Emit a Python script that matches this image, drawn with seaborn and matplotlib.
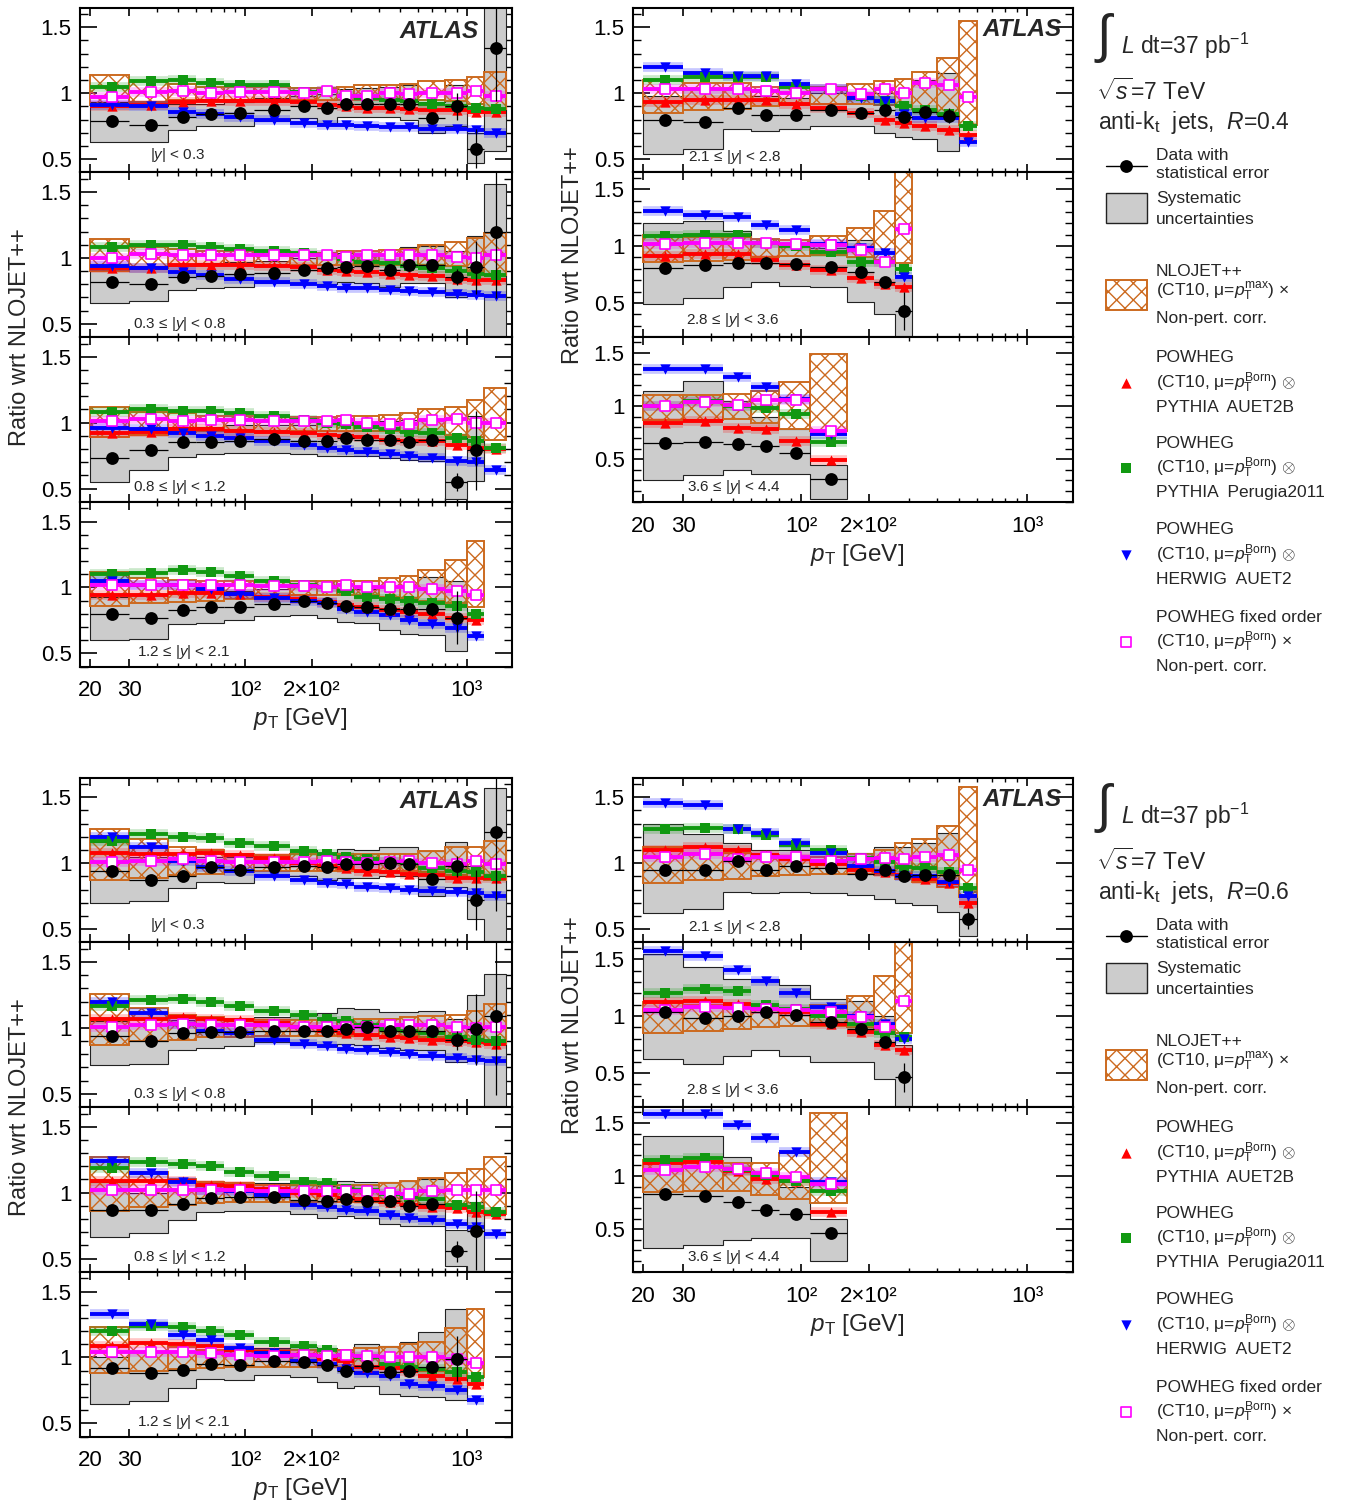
import numpy as np
import matplotlib
matplotlib.use("Agg")
import matplotlib.pyplot as plt
import seaborn as sns
from matplotlib.patches import Rectangle
from matplotlib.ticker import FixedLocator, FixedFormatter, MultipleLocator, NullFormatter

# jet pT bin edges [GeV]
PT_EDGES = [20, 30, 45, 60, 80, 110, 160, 210, 260, 310, 400, 500, 600, 800, 1000, 1200, 1500]

RAP_LABELS = ["|$y$| < 0.3", "0.3 ≤ |$y$| < 0.8", "0.8 ≤ |$y$| < 1.2", "1.2 ≤ |$y$| < 2.1",
              "2.1 ≤ |$y$| < 2.8", "2.8 ≤ |$y$| < 3.6", "3.6 ≤ |$y$| < 4.4"]

# ---------------- R = 0.4 ----------------
R04_Y1_DATA = [0.79, 0.76, 0.82, 0.84, 0.85, 0.87, 0.90, 0.89, 0.92, 0.92, 0.92, 0.92, 0.81, 0.90, 0.58, 1.34]
R04_Y1_STAT = [0.01, 0.01, 0.01, 0.01, 0.01, 0.01, 0.01, 0.01, 0.01, 0.01, 0.01, 0.02, 0.03, 0.10, 0.15, 0.40]
R04_Y1_SYS_LO = [0.63, 0.63, 0.72, 0.75, 0.75, 0.79, 0.81, 0.77, 0.82, 0.82, 0.82, 0.80, 0.70, 0.75, 0.47, 0.56]
R04_Y1_SYS_HI = [0.93, 0.90, 0.92, 0.92, 0.93, 0.96, 0.98, 0.99, 1.03, 1.04, 1.05, 1.06, 0.93, 1.06, 0.70, 2.00]
R04_Y1_NLO_LO = [0.91, 0.93, 0.95, 0.95, 0.95, 0.95, 0.95, 0.95, 0.95, 0.95, 0.95, 0.95, 0.95, 0.94, 0.92, 0.88]
R04_Y1_NLO_HI = [1.14, 1.09, 1.07, 1.05, 1.05, 1.05, 1.04, 1.04, 1.05, 1.06, 1.06, 1.07, 1.09, 1.10, 1.12, 1.16]
R04_Y1_RED = [0.90, 0.91, 0.93, 0.94, 0.94, 0.94, 0.93, 0.91, 0.90, 0.89, 0.89, 0.88, 0.87, 0.87, 0.86, 0.86]
R04_Y1_GREEN = [1.05, 1.09, 1.10, 1.08, 1.06, 1.06, 1.01, 1.02, 0.98, 0.96, 0.95, 0.94, 0.92, 0.90, 0.89, 0.88]
R04_Y1_BLUE = [0.91, 0.90, 0.86, 0.84, 0.82, 0.80, 0.77, 0.76, 0.76, 0.75, 0.74, 0.74, 0.73, 0.73, 0.72, 0.70]
R04_Y1_MAG = [0.97, 1.01, 1.02, 1.00, 1.01, 1.01, 1.00, 1.02, 0.98, 0.98, 1.00, 0.99, 1.00, 1.00, 1.02, 0.98]

R04_Y2_DATA = [0.82, 0.80, 0.855, 0.86, 0.88, 0.886, 0.906, 0.92, 0.93, 0.94, 0.906, 0.944, 0.95, 0.855, 0.93, 1.195]
R04_Y2_STAT = [0.01, 0.01, 0.01, 0.01, 0.01, 0.01, 0.01, 0.01, 0.01, 0.01, 0.01, 0.02, 0.02, 0.06, 0.20, 0.50]
R04_Y2_SYS_LO = [0.66, 0.67, 0.76, 0.77, 0.78, 0.81, 0.80, 0.80, 0.82, 0.81, 0.78, 0.81, 0.81, 0.70, 0.73, 0.30]
R04_Y2_SYS_HI = [0.95, 0.93, 0.95, 0.96, 0.97, 0.98, 1.00, 1.02, 1.04, 1.05, 1.03, 1.08, 1.09, 1.05, 1.17, 1.56]
R04_Y2_NLO_LO = [0.90, 0.92, 0.94, 0.95, 0.95, 0.95, 0.95, 0.95, 0.95, 0.95, 0.95, 0.95, 0.95, 0.94, 0.90, 0.87]
R04_Y2_NLO_HI = [1.14, 1.08, 1.07, 1.05, 1.05, 1.05, 1.04, 1.04, 1.05, 1.05, 1.06, 1.07, 1.10, 1.12, 1.15, 1.19]
R04_Y2_RED = [0.92, 0.92, 0.95, 0.95, 0.95, 0.94, 0.93, 0.91, 0.90, 0.89, 0.88, 0.87, 0.86, 0.84, 0.83, 0.83]
R04_Y2_GREEN = [1.08, 1.10, 1.10, 1.08, 1.07, 1.05, 1.04, 1.02, 0.99, 0.97, 0.96, 0.94, 0.92, 0.90, 0.88, 0.87]
R04_Y2_BLUE = [0.94, 0.92, 0.89, 0.87, 0.84, 0.82, 0.80, 0.79, 0.77, 0.77, 0.76, 0.75, 0.74, 0.73, 0.72, 0.71]
R04_Y2_MAG = [1.00, 1.03, 1.02, 1.02, 1.02, 1.02, 1.02, 1.02, 1.01, 1.02, 1.02, 1.02, 1.02, 1.01, 1.00, 1.02]

R04_Y3_DATA = [0.73, 0.79, 0.85, 0.855, 0.86, 0.875, 0.86, 0.86, 0.88, 0.87, 0.865, 0.85, 0.87, 0.55, 0.79]
R04_Y3_STAT = [0.01, 0.01, 0.01, 0.01, 0.01, 0.01, 0.01, 0.01, 0.01, 0.01, 0.01, 0.02, 0.03, 0.07, 0.30]
R04_Y3_SYS_LO = [0.55, 0.64, 0.74, 0.76, 0.77, 0.77, 0.76, 0.75, 0.75, 0.75, 0.73, 0.72, 0.71, 0.42, 0.56]
R04_Y3_SYS_HI = [0.92, 0.95, 0.97, 0.97, 0.98, 0.98, 0.98, 0.99, 1.00, 1.00, 1.01, 1.02, 1.02, 0.72, 1.05]
R04_Y3_NLO_LO = [0.89, 0.91, 0.93, 0.94, 0.94, 0.94, 0.94, 0.94, 0.94, 0.94, 0.94, 0.93, 0.92, 0.91, 0.89, 0.87]
R04_Y3_NLO_HI = [1.12, 1.08, 1.07, 1.05, 1.05, 1.04, 1.04, 1.04, 1.05, 1.05, 1.06, 1.07, 1.10, 1.12, 1.17, 1.26]
R04_Y3_RED = [0.92, 0.93, 0.95, 0.95, 0.94, 0.93, 0.92, 0.91, 0.90, 0.89, 0.87, 0.86, 0.86, 0.83, 0.81, 0.80]
R04_Y3_GREEN = [1.08, 1.10, 1.09, 1.09, 1.07, 1.05, 1.02, 1.00, 0.99, 0.97, 0.95, 0.93, 0.92, 0.88, 0.86, 0.81]
R04_Y3_BLUE = [0.96, 0.95, 0.92, 0.90, 0.88, 0.86, 0.83, 0.81, 0.79, 0.78, 0.76, 0.75, 0.73, 0.71, 0.70, 0.64]
R04_Y3_MAG = [1.01, 1.03, 1.01, 1.02, 1.02, 1.01, 1.01, 1.01, 1.02, 1.00, 0.99, 0.99, 1.02, 1.03, 1.00, 1.00]

R04_Y4_DATA = [0.80, 0.77, 0.83, 0.85, 0.855, 0.875, 0.90, 0.88, 0.86, 0.855, 0.835, 0.835, 0.835, 0.77]
R04_Y4_STAT = [0.01, 0.01, 0.01, 0.01, 0.01, 0.01, 0.01, 0.01, 0.01, 0.01, 0.02, 0.02, 0.05, 0.20]
R04_Y4_SYS_LO = [0.60, 0.61, 0.72, 0.73, 0.75, 0.78, 0.79, 0.77, 0.74, 0.73, 0.68, 0.65, 0.64, 0.52]
R04_Y4_SYS_HI = [0.93, 0.95, 0.96, 0.96, 0.97, 0.99, 1.00, 1.00, 0.99, 0.99, 1.00, 1.02, 1.08, 1.05]
R04_Y4_NLO_LO = [0.86, 0.88, 0.89, 0.90, 0.91, 0.93, 0.94, 0.94, 0.94, 0.94, 0.93, 0.92, 0.90, 0.88, 0.85]
R04_Y4_NLO_HI = [1.12, 1.07, 1.06, 1.05, 1.05, 1.05, 1.05, 1.05, 1.05, 1.05, 1.07, 1.09, 1.13, 1.21, 1.35]
R04_Y4_RED = [0.94, 0.94, 0.96, 0.96, 0.95, 0.93, 0.91, 0.89, 0.87, 0.85, 0.83, 0.81, 0.80, 0.77, 0.75]
R04_Y4_GREEN = [1.10, 1.11, 1.13, 1.12, 1.09, 1.05, 1.02, 1.00, 0.97, 0.93, 0.91, 0.90, 0.88, 0.86, 0.80]
R04_Y4_BLUE = [1.05, 1.02, 1.02, 0.99, 0.95, 0.92, 0.90, 0.88, 0.84, 0.81, 0.79, 0.75, 0.72, 0.69, 0.63]
R04_Y4_MAG = [1.02, 1.02, 1.02, 1.02, 1.02, 1.01, 1.01, 1.00, 1.02, 1.00, 1.00, 1.00, 0.99, 0.97, 0.94]

R04_Y5_DATA = [0.80, 0.785, 0.886, 0.836, 0.836, 0.874, 0.85, 0.87, 0.82, 0.856, 0.83]
R04_Y5_STAT = [0.01, 0.01, 0.01, 0.01, 0.01, 0.01, 0.01, 0.02, 0.02, 0.03, 0.06]
R04_Y5_SYS_LO = [0.54, 0.58, 0.73, 0.71, 0.73, 0.75, 0.75, 0.70, 0.67, 0.65, 0.56]
R04_Y5_SYS_HI = [0.98, 1.04, 1.03, 0.98, 0.96, 1.00, 0.97, 1.00, 1.02, 1.10, 1.15]
R04_Y5_NLO_LO = [0.85, 0.87, 0.88, 0.90, 0.91, 0.92, 0.92, 0.91, 0.90, 0.88, 0.84, 0.76]
R04_Y5_NLO_HI = [1.10, 1.08, 1.08, 1.05, 1.05, 1.05, 1.07, 1.09, 1.11, 1.16, 1.27, 1.55]
R04_Y5_RED = [0.93, 0.95, 0.95, 0.95, 0.92, 0.89, 0.85, 0.80, 0.77, 0.75, 0.72, 0.68]
R04_Y5_GREEN = [1.10, 1.12, 1.12, 1.12, 1.05, 1.03, 0.98, 0.94, 0.90, 0.87, 0.84, 0.75]
R04_Y5_BLUE = [1.20, 1.15, 1.13, 1.13, 1.07, 1.03, 0.96, 0.94, 0.84, 0.81, 0.81, 0.63]
R04_Y5_MAG = [1.03, 1.03, 1.03, 1.02, 1.00, 1.03, 0.99, 1.03, 1.00, 1.08, 1.06, 0.97]

R04_Y6_DATA = [0.81, 0.83, 0.85, 0.85, 0.84, 0.82, 0.77, 0.68, 0.43]
R04_Y6_STAT = [0.01, 0.01, 0.01, 0.01, 0.01, 0.01, 0.02, 0.03, 0.17]
R04_Y6_SYS_LO = [0.49, 0.54, 0.64, 0.68, 0.65, 0.64, 0.51, 0.40, 0.10]
R04_Y6_SYS_HI = [1.20, 1.22, 1.13, 1.03, 1.00, 0.98, 1.05, 0.86, 0.75]
R04_Y6_NLO_LO = [0.86, 0.87, 0.88, 0.90, 0.91, 0.92, 0.90, 0.88, 0.85]
R04_Y6_NLO_HI = [1.10, 1.08, 1.08, 1.06, 1.05, 1.09, 1.16, 1.31, 1.90]
R04_Y6_RED = [0.91, 0.93, 0.93, 0.88, 0.83, 0.79, 0.72, 0.67, 0.64]
R04_Y6_GREEN = [1.09, 1.10, 1.10, 1.03, 1.00, 0.95, 0.86, 0.86, 0.80]
R04_Y6_BLUE = [1.31, 1.27, 1.26, 1.19, 1.14, 1.02, 0.98, 0.94, 0.73]
R04_Y6_MAG = [1.02, 1.03, 1.03, 1.03, 1.02, 1.01, 0.97, 0.86, 1.15]

R04_Y7_DATA = [0.654, 0.66, 0.645, 0.62, 0.56, 0.31]
R04_Y7_STAT = [0.01, 0.01, 0.01, 0.01, 0.01, 0.03]
R04_Y7_SYS_LO = [0.30, 0.35, 0.40, 0.36, 0.36, 0.13]
R04_Y7_SYS_HI = [1.14, 1.24, 1.05, 0.90, 0.78, 0.45]
R04_Y7_NLO_LO = [0.87, 0.87, 0.88, 0.84, 0.78, 0.77]
R04_Y7_NLO_HI = [1.10, 1.10, 1.11, 1.14, 1.23, 1.49]
R04_Y7_RED = [0.84, 0.86, 0.79, 0.78, 0.67, 0.49]
R04_Y7_GREEN = [1.00, 1.05, 1.00, 0.98, 0.93, 0.66]
R04_Y7_BLUE = [1.35, 1.35, 1.27, 1.18, 1.07, 0.74]
R04_Y7_MAG = [1.00, 1.04, 1.01, 1.06, 1.06, 0.77]

# ---------------- R = 0.6 ----------------
R06_Y1_DATA = [0.94, 0.87, 0.90, 0.97, 0.95, 0.97, 0.98, 0.97, 0.99, 0.99, 1.00, 0.99, 0.88, 0.975, 0.72, 1.24]
R06_Y1_STAT = [0.01, 0.01, 0.01, 0.01, 0.01, 0.01, 0.01, 0.01, 0.01, 0.01, 0.01, 0.02, 0.03, 0.08, 0.23, 0.60]
R06_Y1_SYS_LO = [0.70, 0.715, 0.81, 0.86, 0.85, 0.90, 0.90, 0.87, 0.89, 0.886, 0.90, 0.90, 0.75, 0.82, 0.58, 0.40]
R06_Y1_SYS_HI = [1.16, 1.05, 1.03, 1.05, 1.05, 1.05, 1.10, 1.08, 1.11, 1.10, 1.12, 1.12, 1.09, 1.16, 0.98, 1.57]
R06_Y1_NLO_LO = [0.87, 0.89, 0.91, 0.92, 0.93, 0.94, 0.94, 0.94, 0.94, 0.94, 0.94, 0.94, 0.93, 0.91, 0.89, 0.87]
R06_Y1_NLO_HI = [1.26, 1.18, 1.12, 1.10, 1.07, 1.06, 1.07, 1.07, 1.07, 1.07, 1.07, 1.07, 1.09, 1.12, 1.12, 1.17]
R06_Y1_RED = [1.08, 1.07, 1.07, 1.08, 1.06, 1.04, 1.00, 0.98, 0.96, 0.94, 0.93, 0.92, 0.91, 0.89, 0.89, 0.89]
R06_Y1_GREEN = [1.17, 1.22, 1.20, 1.19, 1.15, 1.13, 1.09, 1.07, 1.05, 1.03, 1.01, 1.00, 0.96, 0.94, 0.93, 0.90]
R06_Y1_BLUE = [1.20, 1.12, 1.02, 0.97, 0.94, 0.90, 0.87, 0.85, 0.84, 0.82, 0.81, 0.80, 0.79, 0.78, 0.77, 0.75]
R06_Y1_MAG = [1.01, 1.02, 1.03, 1.02, 1.01, 1.01, 1.01, 1.02, 1.01, 1.00, 1.01, 1.02, 1.00, 0.99, 1.02, 0.99]

R06_Y2_DATA = [0.94, 0.90, 0.96, 0.97, 0.97, 0.975, 0.975, 0.975, 0.99, 1.005, 0.975, 0.975, 0.98, 0.905, 0.99, 1.09]
R06_Y2_STAT = [0.01, 0.01, 0.01, 0.01, 0.01, 0.01, 0.01, 0.01, 0.01, 0.01, 0.01, 0.02, 0.02, 0.07, 0.27, 0.60]
R06_Y2_SYS_LO = [0.72, 0.73, 0.835, 0.85, 0.86, 0.89, 0.87, 0.86, 0.88, 0.87, 0.85, 0.835, 0.835, 0.74, 0.77, 0.30]
R06_Y2_SYS_HI = [1.05, 1.02, 1.06, 1.07, 1.07, 1.08, 1.10, 1.11, 1.15, 1.14, 1.12, 1.12, 1.13, 1.07, 1.25, 1.41]
R06_Y2_NLO_LO = [0.87, 0.90, 0.91, 0.93, 0.93, 0.94, 0.94, 0.94, 0.94, 0.94, 0.94, 0.94, 0.93, 0.92, 0.90, 0.88]
R06_Y2_NLO_HI = [1.26, 1.15, 1.10, 1.08, 1.07, 1.06, 1.06, 1.06, 1.06, 1.07, 1.07, 1.08, 1.09, 1.10, 1.13, 1.18]
R06_Y2_RED = [1.07, 1.07, 1.08, 1.07, 1.06, 1.04, 1.01, 0.98, 0.96, 0.95, 0.93, 0.92, 0.91, 0.90, 0.89, 0.88]
R06_Y2_GREEN = [1.17, 1.21, 1.22, 1.20, 1.17, 1.13, 1.10, 1.07, 1.05, 1.02, 0.99, 0.98, 0.96, 0.93, 0.91, 0.90]
R06_Y2_BLUE = [1.20, 1.11, 1.03, 0.98, 0.96, 0.91, 0.88, 0.86, 0.84, 0.83, 0.82, 0.80, 0.79, 0.77, 0.76, 0.75]
R06_Y2_MAG = [1.01, 1.02, 1.03, 1.02, 1.02, 1.02, 1.01, 1.01, 1.01, 1.01, 1.02, 1.02, 1.02, 1.01, 1.00, 1.01]

R06_Y3_DATA = [0.87, 0.87, 0.915, 0.957, 0.967, 0.967, 0.944, 0.937, 0.95, 0.937, 0.937, 0.90, 0.915, 0.556, 0.71]
R06_Y3_STAT = [0.01, 0.01, 0.01, 0.01, 0.01, 0.01, 0.01, 0.01, 0.01, 0.01, 0.01, 0.02, 0.03, 0.08, 0.30]
R06_Y3_SYS_LO = [0.66, 0.695, 0.79, 0.85, 0.86, 0.86, 0.835, 0.81, 0.82, 0.81, 0.76, 0.75, 0.75, 0.44, 0.40]
R06_Y3_SYS_HI = [1.08, 1.00, 1.03, 1.05, 1.06, 1.07, 1.06, 1.05, 1.09, 1.08, 1.08, 1.09, 1.10, 0.72, 0.93]
R06_Y3_NLO_LO = [0.86, 0.89, 0.91, 0.92, 0.93, 0.93, 0.93, 0.93, 0.93, 0.93, 0.92, 0.91, 0.90, 0.88, 0.86, 0.84]
R06_Y3_NLO_HI = [1.27, 1.16, 1.10, 1.08, 1.07, 1.06, 1.06, 1.06, 1.06, 1.06, 1.07, 1.09, 1.11, 1.15, 1.18, 1.27]
R06_Y3_RED = [1.09, 1.09, 1.09, 1.06, 1.05, 1.03, 1.00, 0.98, 0.96, 0.95, 0.93, 0.91, 0.89, 0.88, 0.85, 0.84]
R06_Y3_GREEN = [1.19, 1.23, 1.22, 1.20, 1.16, 1.13, 1.08, 1.07, 1.03, 1.02, 0.99, 0.97, 0.95, 0.91, 0.89, 0.85]
R06_Y3_BLUE = [1.24, 1.15, 1.08, 1.02, 1.01, 0.98, 0.91, 0.89, 0.87, 0.86, 0.83, 0.81, 0.79, 0.76, 0.74, 0.69]
R06_Y3_MAG = [1.02, 1.02, 1.02, 1.02, 1.02, 1.01, 1.01, 1.01, 1.01, 1.01, 1.00, 0.99, 1.01, 1.02, 1.02, 1.02]

R06_Y4_DATA = [0.92, 0.88, 0.905, 0.947, 0.944, 0.975, 0.967, 0.944, 0.90, 0.937, 0.89, 0.895, 0.924, 0.99]
R06_Y4_STAT = [0.01, 0.01, 0.01, 0.01, 0.01, 0.01, 0.01, 0.01, 0.01, 0.01, 0.01, 0.02, 0.04, 0.17]
R06_Y4_SYS_LO = [0.65, 0.67, 0.77, 0.835, 0.83, 0.865, 0.85, 0.815, 0.77, 0.785, 0.72, 0.71, 0.70, 0.68]
R06_Y4_SYS_HI = [1.00, 1.05, 1.05, 1.05, 1.05, 1.07, 1.08, 1.07, 1.06, 1.10, 1.09, 1.12, 1.19, 1.37]
R06_Y4_NLO_LO = [0.88, 0.90, 0.91, 0.92, 0.93, 0.93, 0.93, 0.93, 0.93, 0.93, 0.92, 0.91, 0.90, 0.88, 0.85]
R06_Y4_NLO_HI = [1.23, 1.11, 1.08, 1.06, 1.06, 1.06, 1.06, 1.06, 1.06, 1.07, 1.08, 1.10, 1.12, 1.22, 1.37]
R06_Y4_RED = [1.09, 1.11, 1.10, 1.09, 1.06, 1.04, 1.02, 0.99, 0.97, 0.93, 0.92, 0.90, 0.86, 0.84, 0.80]
R06_Y4_GREEN = [1.20, 1.24, 1.23, 1.20, 1.17, 1.12, 1.09, 1.06, 1.02, 1.00, 0.95, 0.93, 0.91, 0.89, 0.85]
R06_Y4_BLUE = [1.33, 1.25, 1.17, 1.13, 1.07, 1.03, 0.97, 0.95, 0.91, 0.88, 0.86, 0.80, 0.78, 0.75, 0.68]
R06_Y4_MAG = [1.04, 1.04, 1.04, 1.03, 1.02, 1.01, 1.02, 1.01, 1.02, 1.01, 1.00, 1.00, 1.00, 0.99, 0.96]

R06_Y5_DATA = [0.95, 0.95, 1.02, 0.95, 0.98, 0.96, 0.92, 0.95, 0.90, 0.91, 0.91, 0.58]
R06_Y5_STAT = [0.01, 0.01, 0.01, 0.01, 0.01, 0.01, 0.01, 0.02, 0.02, 0.03, 0.04, 0.08]
R06_Y5_SYS_LO = [0.62, 0.65, 0.78, 0.77, 0.78, 0.77, 0.76, 0.73, 0.70, 0.68, 0.63, 0.45]
R06_Y5_SYS_HI = [1.30, 1.22, 1.15, 1.10, 1.10, 1.10, 1.08, 1.12, 1.12, 1.15, 1.23, 0.75]
R06_Y5_NLO_LO = [0.85, 0.87, 0.88, 0.90, 0.91, 0.92, 0.92, 0.91, 0.88, 0.86, 0.82, 0.74]
R06_Y5_NLO_HI = [1.12, 1.08, 1.08, 1.06, 1.05, 1.05, 1.07, 1.10, 1.15, 1.18, 1.28, 1.58]
R06_Y5_RED = [1.10, 1.12, 1.10, 1.06, 1.03, 0.99, 0.95, 0.93, 0.91, 0.88, 0.85, 0.70]
R06_Y5_GREEN = [1.26, 1.27, 1.26, 1.21, 1.14, 1.10, 1.04, 1.01, 0.97, 0.96, 0.93, 0.81]
R06_Y5_BLUE = [1.46, 1.44, 1.26, 1.23, 1.15, 1.08, 0.98, 0.94, 0.90, 0.90, 0.86, 0.75]
R06_Y5_MAG = [1.05, 1.07, 1.03, 1.05, 1.05, 1.02, 1.03, 1.04, 1.03, 1.05, 1.06, 0.95]

R06_Y6_DATA = [1.04, 0.98, 1.00, 1.04, 1.01, 0.95, 0.89, 0.77, 0.46]
R06_Y6_STAT = [0.01, 0.01, 0.01, 0.01, 0.01, 0.01, 0.02, 0.03, 0.13]
R06_Y6_SYS_LO = [0.62, 0.58, 0.65, 0.70, 0.65, 0.60, 0.60, 0.45, 0.20]
R06_Y6_SYS_HI = [1.55, 1.43, 1.33, 1.33, 1.27, 1.15, 1.13, 1.00, 0.75]
R06_Y6_NLO_LO = [0.85, 0.87, 0.89, 0.90, 0.91, 0.91, 0.90, 0.88, 0.85]
R06_Y6_NLO_HI = [1.12, 1.10, 1.08, 1.06, 1.06, 1.10, 1.18, 1.35, 1.90]
R06_Y6_RED = [1.12, 1.13, 1.11, 1.06, 1.04, 0.93, 0.86, 0.75, 0.70]
R06_Y6_GREEN = [1.20, 1.24, 1.22, 1.10, 1.06, 1.00, 0.93, 0.85, 0.82]
R06_Y6_BLUE = [1.57, 1.53, 1.41, 1.31, 1.20, 1.08, 1.00, 0.93, 0.80]
R06_Y6_MAG = [1.05, 1.08, 1.07, 1.06, 1.05, 1.04, 0.99, 0.90, 1.13]

R06_Y7_DATA = [0.83, 0.81, 0.76, 0.68, 0.64, 0.46]
R06_Y7_STAT = [0.01, 0.01, 0.01, 0.01, 0.02, 0.03]
R06_Y7_SYS_LO = [0.32, 0.35, 0.40, 0.42, 0.42, 0.20]
R06_Y7_SYS_HI = [1.38, 1.38, 1.18, 1.00, 0.90, 0.60]
R06_Y7_NLO_LO = [0.85, 0.86, 0.86, 0.82, 0.78, 0.75]
R06_Y7_NLO_HI = [1.15, 1.14, 1.12, 1.12, 1.22, 1.59]
R06_Y7_RED = [1.12, 1.13, 1.05, 0.97, 0.95, 0.66]
R06_Y7_GREEN = [1.15, 1.17, 1.06, 1.01, 0.95, 0.86]
R06_Y7_BLUE = [1.58, 1.58, 1.48, 1.36, 1.23, 0.94]
R06_Y7_MAG = [1.06, 1.09, 1.07, 1.03, 0.99, 0.93]


def pack(data, stat, slo, shi, nlo, nhi, red, green, blue, mag):
    return dict(data=data, stat=stat, sys_lo=slo, sys_hi=shi, nlo_lo=nlo, nlo_hi=nhi,
                red=red, green=green, blue=blue, mag=mag)


R04 = [
    pack(R04_Y1_DATA, R04_Y1_STAT, R04_Y1_SYS_LO, R04_Y1_SYS_HI, R04_Y1_NLO_LO, R04_Y1_NLO_HI, R04_Y1_RED, R04_Y1_GREEN, R04_Y1_BLUE, R04_Y1_MAG),
    pack(R04_Y2_DATA, R04_Y2_STAT, R04_Y2_SYS_LO, R04_Y2_SYS_HI, R04_Y2_NLO_LO, R04_Y2_NLO_HI, R04_Y2_RED, R04_Y2_GREEN, R04_Y2_BLUE, R04_Y2_MAG),
    pack(R04_Y3_DATA, R04_Y3_STAT, R04_Y3_SYS_LO, R04_Y3_SYS_HI, R04_Y3_NLO_LO, R04_Y3_NLO_HI, R04_Y3_RED, R04_Y3_GREEN, R04_Y3_BLUE, R04_Y3_MAG),
    pack(R04_Y4_DATA, R04_Y4_STAT, R04_Y4_SYS_LO, R04_Y4_SYS_HI, R04_Y4_NLO_LO, R04_Y4_NLO_HI, R04_Y4_RED, R04_Y4_GREEN, R04_Y4_BLUE, R04_Y4_MAG),
    pack(R04_Y5_DATA, R04_Y5_STAT, R04_Y5_SYS_LO, R04_Y5_SYS_HI, R04_Y5_NLO_LO, R04_Y5_NLO_HI, R04_Y5_RED, R04_Y5_GREEN, R04_Y5_BLUE, R04_Y5_MAG),
    pack(R04_Y6_DATA, R04_Y6_STAT, R04_Y6_SYS_LO, R04_Y6_SYS_HI, R04_Y6_NLO_LO, R04_Y6_NLO_HI, R04_Y6_RED, R04_Y6_GREEN, R04_Y6_BLUE, R04_Y6_MAG),
    pack(R04_Y7_DATA, R04_Y7_STAT, R04_Y7_SYS_LO, R04_Y7_SYS_HI, R04_Y7_NLO_LO, R04_Y7_NLO_HI, R04_Y7_RED, R04_Y7_GREEN, R04_Y7_BLUE, R04_Y7_MAG),
]
R06 = [
    pack(R06_Y1_DATA, R06_Y1_STAT, R06_Y1_SYS_LO, R06_Y1_SYS_HI, R06_Y1_NLO_LO, R06_Y1_NLO_HI, R06_Y1_RED, R06_Y1_GREEN, R06_Y1_BLUE, R06_Y1_MAG),
    pack(R06_Y2_DATA, R06_Y2_STAT, R06_Y2_SYS_LO, R06_Y2_SYS_HI, R06_Y2_NLO_LO, R06_Y2_NLO_HI, R06_Y2_RED, R06_Y2_GREEN, R06_Y2_BLUE, R06_Y2_MAG),
    pack(R06_Y3_DATA, R06_Y3_STAT, R06_Y3_SYS_LO, R06_Y3_SYS_HI, R06_Y3_NLO_LO, R06_Y3_NLO_HI, R06_Y3_RED, R06_Y3_GREEN, R06_Y3_BLUE, R06_Y3_MAG),
    pack(R06_Y4_DATA, R06_Y4_STAT, R06_Y4_SYS_LO, R06_Y4_SYS_HI, R06_Y4_NLO_LO, R06_Y4_NLO_HI, R06_Y4_RED, R06_Y4_GREEN, R06_Y4_BLUE, R06_Y4_MAG),
    pack(R06_Y5_DATA, R06_Y5_STAT, R06_Y5_SYS_LO, R06_Y5_SYS_HI, R06_Y5_NLO_LO, R06_Y5_NLO_HI, R06_Y5_RED, R06_Y5_GREEN, R06_Y5_BLUE, R06_Y5_MAG),
    pack(R06_Y6_DATA, R06_Y6_STAT, R06_Y6_SYS_LO, R06_Y6_SYS_HI, R06_Y6_NLO_LO, R06_Y6_NLO_HI, R06_Y6_RED, R06_Y6_GREEN, R06_Y6_BLUE, R06_Y6_MAG),
    pack(R06_Y7_DATA, R06_Y7_STAT, R06_Y7_SYS_LO, R06_Y7_SYS_HI, R06_Y7_NLO_LO, R06_Y7_NLO_HI, R06_Y7_RED, R06_Y7_GREEN, R06_Y7_BLUE, R06_Y7_MAG),
]

GREY = "#cccccc"
ORANGE = "#cc6a1f"
MC_STYLES = [("red", "#ff0000", "^", 55), ("green", "#119911", "s", 45),
             ("blue", "#0000ff", "v", 55), ("mag", "#ff00ff", "s", 55)]

sns.set_style("ticks")
plt.rcParams["font.family"] = ["Liberation Sans", "DejaVu Sans"]
plt.rcParams["mathtext.fontset"] = "custom"
plt.rcParams["mathtext.rm"] = "Liberation Sans"
plt.rcParams["mathtext.it"] = "Liberation Sans:italic"
plt.rcParams["mathtext.bf"] = "Liberation Sans:bold"
plt.rcParams["hatch.linewidth"] = 1.0
plt.rcParams["axes.linewidth"] = 1.5
plt.rcParams["axes.edgecolor"] = "black"

W, H = 1351, 1507
fig = plt.figure(figsize=(W / 100, H / 100), dpi=100)


def px_axes(x0, y0, x1, y1):
    return fig.add_axes([x0 / W, 1 - y1 / H, (x1 - x0) / W, (y1 - y0) / H])


def draw_panel(ax, p, ylim, show_x):
    edges = np.array(PT_EDGES, dtype=float)
    lo_e, hi_e = edges[:-1], edges[1:]
    cen = 0.5 * (lo_e + hi_e)
    nd = len(p["data"])

    # systematic uncertainty band
    ax.stairs(p["sys_hi"], edges[:nd + 1], baseline=p["sys_lo"], fill=True, color=GREY, lw=0, zorder=1)
    ax.stairs(p["sys_hi"], edges[:nd + 1], baseline=p["sys_lo"], fill=False, color="#222222", lw=0.8, zorder=1.2)

    # NLOJET++ band
    nn = len(p["nlo_lo"])
    nlo_lo = np.array(p["nlo_lo"])
    nlo_hi = np.array(p["nlo_hi"])
    ax.bar(lo_e[:nn], nlo_hi - nlo_lo, width=hi_e[:nn] - lo_e[:nn], bottom=nlo_lo, align="edge",
           fill=False, hatch="xx", edgecolor=ORANGE, lw=1.4, zorder=2)

    # POWHEG curves
    for key, color, marker, size in MC_STYLES:
        vals = np.array(p[key])
        n = len(vals)
        ax.hlines(vals, lo_e[:n], hi_e[:n], colors=color, lw=7, alpha=0.22, zorder=3)
        ax.hlines(vals, lo_e[:n], hi_e[:n], colors=color, lw=2.8, zorder=3.1)
        if key == "mag":
            sns.scatterplot(x=cen[:n], y=vals, ax=ax, marker=marker, color="white", edgecolor=color,
                            linewidth=1.2, s=size, legend=False, zorder=3.3)
        else:
            sns.scatterplot(x=cen[:n], y=vals, ax=ax, marker=marker, color=color, linewidth=0,
                            s=size, legend=False, zorder=3.2)

    # data
    d = np.array(p["data"])
    ax.errorbar(cen[:nd], d, yerr=p["stat"], xerr=[cen[:nd] - lo_e[:nd], hi_e[:nd] - cen[:nd]],
                fmt="none", ecolor="black", elinewidth=0.9, capsize=0, zorder=5)
    sns.scatterplot(x=cen[:nd], y=d, ax=ax, marker="o", color="black", linewidth=0, s=85,
                    legend=False, zorder=6)

    ax.set_xscale("log")
    ax.set_xlim(18, 1600)
    ax.set_ylim(*ylim)
    ax.xaxis.set_major_locator(FixedLocator([20, 30, 100, 200, 1000]))
    ax.xaxis.set_major_formatter(FixedFormatter(["20", "30", "10²", "2×10²", "10³"]))
    ax.xaxis.set_minor_locator(FixedLocator([40, 50, 60, 70, 80, 90, 300, 400, 500, 600, 700, 800, 900]))
    ax.xaxis.set_minor_formatter(NullFormatter())
    ax.yaxis.set_major_locator(FixedLocator([0.5, 1.0, 1.5]))
    ax.yaxis.set_major_formatter(FixedFormatter(["0.5", "1", "1.5"]))
    ax.yaxis.set_minor_locator(MultipleLocator(0.1))
    ax.tick_params(which="both", direction="in", top=True, right=True, colors="black")
    ax.tick_params(axis="y", which="major", length=12, width=1.2, labelsize=16, pad=6)
    ax.tick_params(axis="y", which="minor", length=6, width=1.0)
    ax.tick_params(axis="x", which="major", length=6, width=1.2, labelsize=16, pad=10)
    ax.tick_params(axis="x", which="minor", length=3, width=1.0)
    if not show_x:
        ax.tick_params(axis="x", labelbottom=False)
    ax.set_xlabel("")
    ax.set_ylabel("")


LEFT_X = (80, 512)
RIGHT_X = (633, 1073)
ROW_H = 164.75
TOP0 = 7.5
LEFT_YLIMS = [(0.4, 1.65)] * 4
RIGHT_YLIMS = [(0.4, 1.65), (0.2, 1.65), (0.1, 1.65)]
RAP_POS = [(150, 155), (133, 324), (133, 487), (137, 652), (688, 157), (686, 320), (687, 487)]


def draw_legend(legax, off, radius):
    legax.text(1096, 38 + off, "∫", fontsize=38, va="center", ha="left")
    legax.text(1121, 46 + off, r"$L$ dt=37 pb$^{{-}1}$", fontsize=16.5, va="center")
    legax.text(1096, 92 + off, r"$\sqrt{s}$=7 TeV", fontsize=16.5, va="center")
    legax.text(1098, 122 + off, r"anti-k$_{\rm t}$  jets,  $R$=" + radius, fontsize=16.5, va="center")

    tx = 1156
    fs = 12.5
    legax.plot([1106, 1147], [166 + off] * 2, color="black", lw=1)
    sns.scatterplot(x=[1126], y=[166 + off], ax=legax, marker="o", color="black", s=85, linewidth=0, legend=False)
    legax.text(tx, 156 + off, "Data with", fontsize=fs, va="center")
    legax.text(tx, 174 + off, "statistical error", fontsize=fs, va="center")

    legax.add_patch(Rectangle((1106, 193 + off), 41, 30, facecolor=GREY, edgecolor="#222222", lw=1))
    legax.text(tx, 199 + off, "Systematic", fontsize=fs, va="center")
    legax.text(tx, 220 + off, "uncertainties", fontsize=fs, va="center")

    legax.add_patch(Rectangle((1106, 280 + off), 41, 30, fill=False, hatch="xx", edgecolor=ORANGE, lw=1.4))
    legax.text(tx, 272 + off, "NLOJET++", fontsize=fs, va="center")
    legax.text(tx, 292 + off, r"(CT10, μ=$p_{\rm T}^{\rm max}$) $\times$", fontsize=fs, va="center")
    legax.text(tx, 318 + off, "Non-pert. corr.", fontsize=fs, va="center")

    entries = [
        ("red", 358, r"(CT10, μ=$p_{\rm T}^{\rm Born}$) $\otimes$", "PYTHIA  AUET2B", "POWHEG"),
        ("green", 443, r"(CT10, μ=$p_{\rm T}^{\rm Born}$) $\otimes$", "PYTHIA  Perugia2011", "POWHEG"),
        ("blue", 530, r"(CT10, μ=$p_{\rm T}^{\rm Born}$) $\otimes$", "HERWIG  AUET2", "POWHEG"),
        ("mag", 617, r"(CT10, μ=$p_{\rm T}^{\rm Born}$) $\times$", "Non-pert. corr.", "POWHEG fixed order"),
    ]
    styles = {k: (c, m, s) for k, c, m, s in MC_STYLES}
    for key, y0, l2, l3, l1 in entries:
        color, marker, size = styles[key]
        my = y0 + 25 + off
        if key == "mag":
            sns.scatterplot(x=[1126], y=[my], ax=legax, marker=marker, color="white", edgecolor=color,
                            linewidth=1.2, s=size, legend=False)
        else:
            sns.scatterplot(x=[1126], y=[my], ax=legax, marker=marker, color=color, linewidth=0,
                            s=size, legend=False)
        legax.text(tx, y0 + off, l1, fontsize=fs, va="center")
        legax.text(tx, y0 + 25 + off, l2, fontsize=fs, va="center")
        legax.text(tx, y0 + 50 + off, l3, fontsize=fs, va="center")


legax = fig.add_axes([1085 / W, 0, (W - 1085) / W, 1])
legax.set_xlim(1085, W)
legax.set_ylim(H, 0)
legax.axis("off")

for off, panels, radius in [(0, R04, "0.4"), (770, R06, "0.6")]:
    # left column, 4 rapidity bins
    for i in range(4):
        y0 = TOP0 + off + i * ROW_H
        ax = px_axes(LEFT_X[0], y0, LEFT_X[1], y0 + ROW_H)
        draw_panel(ax, panels[i], LEFT_YLIMS[i], show_x=(i == 3))
    # right column, 3 rapidity bins
    for i in range(3):
        y0 = TOP0 + off + i * ROW_H
        ax = px_axes(RIGHT_X[0], y0, RIGHT_X[1], y0 + ROW_H)
        draw_panel(ax, panels[4 + i], RIGHT_YLIMS[i], show_x=(i == 2))

    for lab, (px, py) in zip(RAP_LABELS, RAP_POS):
        fig.text(px / W, 1 - (py + off) / H, lab, fontsize=11, ha="left", va="center")

    fig.text(479 / W, 1 - (32 + off) / H, "ATLAS", fontsize=17.5, fontweight="bold", fontstyle="italic",
             ha="right", va="center")
    fig.text(1062 / W, 1 - (30 + off) / H, "ATLAS", fontsize=17.5, fontweight="bold", fontstyle="italic",
             ha="right", va="center")

    fig.text(20 / W, 1 - (337 + off) / H, "Ratio wrt NLOJET++", fontsize=17, rotation=90, ha="center", va="center")
    fig.text(573 / W, 1 - (255 + off) / H, "Ratio wrt NLOJET++", fontsize=17, rotation=90, ha="center", va="center")

    fig.text(300 / W, 1 - (725 + off) / H, r"$p_{\rm T}$ [GeV]", fontsize=17.5, ha="center", va="baseline")
    fig.text(857 / W, 1 - (561 + off) / H, r"$p_{\rm T}$ [GeV]", fontsize=17.5, ha="center", va="baseline")

    draw_legend(legax, off, radius)

fig.savefig("out.png", dpi=100)
